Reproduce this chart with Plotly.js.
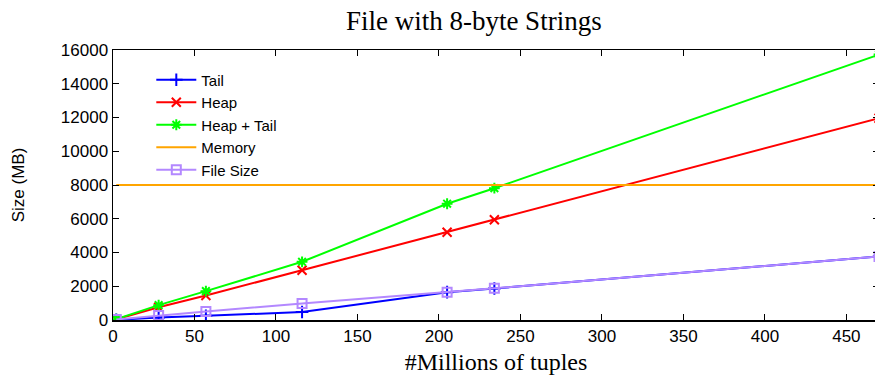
<!DOCTYPE html>
<html>
<head>
<meta charset="utf-8">
<script src="https://cdn.plot.ly/plotly-3.0.1.min.js"></script>
<style>
html,body{margin:0;padding:0;overflow:hidden;background:#fff;}
#chart{width:879px;height:376px;}
</style>
</head>
<body>
<div id="chart"></div>
<script>
// Millions of tuples
var tuples = [2, 28, 57, 116, 205, 234, 470];
var tail = [10, 150, 250, 470, 1650, 1870, 3765];
var heap = [40, 750, 1450, 2950, 5200, 5940, 11960];
var heapTail = [50, 880, 1710, 3450, 6890, 7810, 15730];
var memory = [8000, 8000, 8000, 8000, 8000, 8000, 8000];
var fileSize = [30, 265, 500, 980, 1650, 1880, 3765];
var seriesNames = ["Tail", "Heap", "Heap + Tail", "Memory", "File Size"];
var yTicks = [0, 2000, 4000, 6000, 8000, 10000, 12000, 14000, 16000];
var xTicks = [0, 50, 100, 150, 200, 250, 300, 350, 400, 450];

function tr(name, y, color, symbol, showMarker) {
  return {
    x: tuples, y: y, name: name, type: 'scatter',
    mode: showMarker ? 'lines+markers' : 'lines',
    line: {color: color, width: 2},
    marker: {symbol: symbol, size: 9, color: color, line: {color: color, width: 2}},
    cliponaxis: true
  };
}

var data = [
  tr(seriesNames[0], tail, '#0000ff', 'cross-thin', true),
  tr(seriesNames[1], heap, '#ff0000', 'x-thin', true),
  tr(seriesNames[2], heapTail, '#00ff00', 'asterisk', true),
  tr(seriesNames[3], memory, '#ffa500', 'circle', false),
  tr(seriesNames[4], fileSize, '#b388ff', 'square-open', true)
];

var layout = {
  width: 879, height: 376,
  margin: {l: 113, r: 0, t: 50, b: 55.5},
  paper_bgcolor: '#fff', plot_bgcolor: '#fff',
  font: {family: 'Liberation Sans, Arial, sans-serif', size: 17, color: '#000'},
  title: {text: 'File with 8-byte Strings', font: {family: 'Liberation Serif, Times New Roman, serif', size: 27, color: '#000'},
          xref: 'container', yref: 'container', x: 0.539, xanchor: 'center', y: 0.97, yanchor: 'top'},
  xaxis: {
    range: [0, 470], tickvals: xTicks, ticktext: xTicks.map(String),
    ticks: 'inside', ticklen: 6, tickwidth: 1, tickcolor: '#000',
    showline: true, linecolor: '#000', linewidth: 1.5, mirror: 'ticks',
    showgrid: false, zeroline: false,
    tickfont: {size: 17},
    title: {text: '#Millions of tuples', font: {family: 'Liberation Serif, Times New Roman, serif', size: 24}, standoff: 8}
  },
  yaxis: {
    range: [0, 16000], tickvals: yTicks, ticktext: yTicks.map(String),
    ticks: 'inside', ticklen: 6, tickwidth: 1, tickcolor: '#000',
    showline: true, linecolor: '#000', linewidth: 1.5, mirror: 'ticks',
    showgrid: false, zeroline: false,
    tickfont: {size: 17},
    title: {text: 'Size (MB)', font: {size: 17}, standoff: 32}
  },
  showlegend: true,
  legend: {x: 0.05, y: 0.95, xanchor: 'left', yanchor: 'top', bgcolor: 'rgba(0,0,0,0)',
           font: {size: 15}, tracegroupgap: 0, itemwidth: 40}
};

Plotly.newPlot('chart', data, layout, {displayModeBar: false, staticPlot: true});
</script>
</body>
</html>
